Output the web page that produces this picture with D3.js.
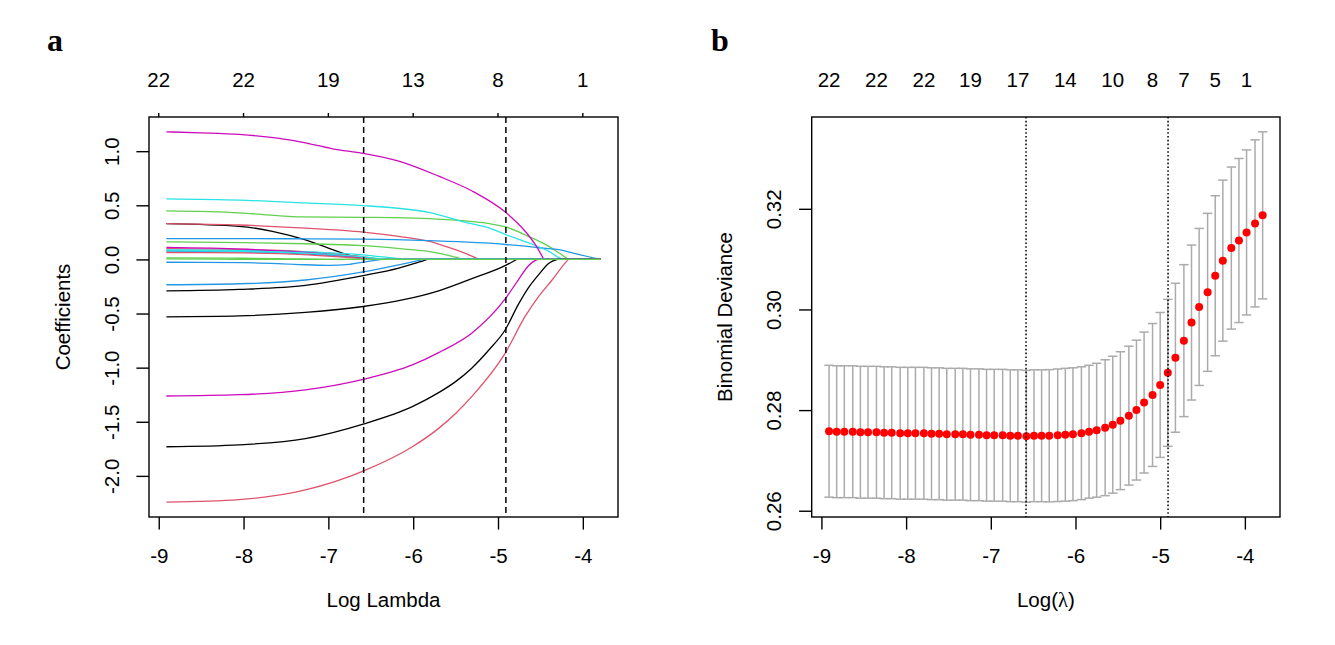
<!DOCTYPE html>
<html><head><meta charset="utf-8">
<script src="https://cdn.jsdelivr.net/npm/d3@7"></script>
<style>body{margin:0;background:#fff} svg text{font-family:"Liberation Sans",Arial,Helvetica,sans-serif;fill:#000}</style>
</head><body><svg id="c" width="1335" height="645"></svg>
<script>
// ---------------- DATA ----------------
// log(lambda) sequence (read from the cross-validation points)
const logLambda = [-8.91,-8.82,-8.73,-8.63,-8.54,-8.45,-8.35,-8.26,-8.17,-8.07,
  -7.98,-7.89,-7.79,-7.70,-7.61,-7.52,-7.42,-7.33,-7.24,-7.14,
  -7.05,-6.96,-6.86,-6.77,-6.68,-6.58,-6.49,-6.40,-6.31,-6.21,
  -6.12,-6.03,-5.93,-5.84,-5.75,-5.65,-5.56,-5.47,-5.37,-5.28,
  -5.19,-5.09,-5.00,-4.91,-4.82,-4.72,-4.63,-4.54,-4.44,-4.35,
  -4.26,-4.16,-4.07,-3.98,-3.88,-3.79];
// mean binomial deviance
const cvm = [0.2758,0.2757,0.2757,0.2757,0.2756,0.2756,0.2756,0.2755,0.2755,0.2754,
  0.2754,0.2754,0.2754,0.2753,0.2753,0.2752,0.2752,0.2752,0.2751,0.2751,
  0.2750,0.2750,0.2750,0.2749,0.2749,0.2748,0.2749,0.2749,0.2749,0.2750,
  0.2751,0.2752,0.2754,0.2757,0.2760,0.2765,0.2771,0.2779,0.2789,0.2800,
  0.2815,0.2830,0.2850,0.2874,0.2904,0.2938,0.2974,0.3005,0.3034,0.3067,
  0.3097,0.3122,0.3137,0.3153,0.3171,0.3187];
// standard error of deviance
const cvsd = [0.0131,0.0131,0.0131,0.0131,0.0131,0.0131,0.0131,0.0131,0.0131,0.0131,
  0.0131,0.0131,0.0131,0.0131,0.0131,0.0131,0.0131,0.0131,0.0131,0.0131,
  0.0131,0.0131,0.0131,0.0131,0.0131,0.0131,0.0131,0.0131,0.01314,0.01317,
  0.0132,0.0132,0.0132,0.0132,0.0133,0.0135,0.0136,0.0137,0.0138,0.0139,
  0.0140,0.0142,0.0144,0.0146,0.0148,0.0151,0.0154,0.0156,0.0157,0.0159,
  0.0160,0.0161,0.0163,0.0164,0.0166,0.0166];

const xTicks = [-9,-8,-7,-6,-5,-4];
const xTickLabels = ["-9","-8","-7","-6","-5","-4"];
const coefTicks = [-2,-1.5,-1,-0.5,0,0.5,1];
const coefTickLabels = ["-2.0","-1.5","-1.0","-0.5","0.0","0.5","1.0"];
const devTicks = [0.26,0.28,0.30,0.32];
const devTickLabels = ["0.26","0.28","0.30","0.32"];
const dfTopA = ["22","22","19","13","8","1"];           // at xTicks
const dfTopBAt = [-8.91,-8.35,-7.79,-7.24,-6.68,-6.12,-5.56,-5.09,-4.72,-4.35,-3.98];
const dfTopB = ["22","22","22","19","17","14","10","8","7","5","1"];
const logLambdaMin = -6.584;
const logLambda1se = -4.907;

// coefficient paths: [logLambda, coefficient] (last point = where it reaches 0)
const coef01 = [[-8.91,0.331],[-8.05,0.306],[-7.66,0.26],[-7.27,0.18],[-6.95,0.09],[-6.71,0.028],[-6.56,0]];
const coef02 = [[-8.91,0.331],[-8.05,0.318],[-7.27,0.29],[-6.59,0.253],[-6.17,0.213],[-5.82,0.168],[-5.6,0.115],[-5.4,0.06],[-5.22,0]];
const coef03 = [[-8.91,0.448],[-8.05,0.43],[-7.6,0.405],[-7.34,0.393],[-6.59,0.389],[-5.82,0.377],[-5.42,0.358],[-5.1,0.33],[-4.91,0.30],[-4.64,0.213],[-4.4,0.12],[-4.25,0.043],[-4.17,0]];
const coef04 = [[-8.91,0.192],[-7.5,0.191],[-6.59,0.187],[-5.82,0.173],[-4.91,0.138],[-4.52,0.108],[-4.25,0.085],[-4.1,0.055],[-3.79,0]];
const coef05 = [[-8.91,0.559],[-8.05,0.547],[-7.27,0.522],[-6.59,0.497],[-6.1,0.466],[-5.82,0.435],[-5.42,0.35],[-5.1,0.29],[-4.91,0.23],[-4.64,0.152],[-4.40,0.074],[-4.27,0.012],[-4.21,0]];
const coef06 = [[-8.91,1.179],[-8.5,1.17],[-8.05,1.155],[-7.6,1.12],[-7.27,1.077],[-6.95,1.022],[-6.59,0.98],[-6.17,0.908],[-5.7,0.769],[-5.3,0.63],[-4.91,0.435],[-4.68,0.26],[-4.56,0.136],[-4.46,0]];
const coef07 = [[-8.91,-0.29],[-8.05,-0.277],[-7.27,-0.24],[-6.59,-0.15],[-6.17,-0.08],[-5.95,-0.03],[-5.83,0]];
const coef08 = [[-8.91,0.10],[-8.0,0.092],[-7.3,0.072],[-6.9,0.05],[-6.6,0.025],[-6.4,0]];
const coef09 = [[-8.91,0.162],[-8.0,0.155],[-7.27,0.145],[-6.59,0.127],[-6.1,0.096],[-5.82,0.074],[-5.6,0.04],[-5.4,0]];
const coef10 = [[-8.91,0.077],[-8.0,0.07],[-7.3,0.052],[-6.8,0.025],[-6.55,0]];
const coef11 = [[-8.91,0.088],[-8.0,0.083],[-7.3,0.072],[-6.6,0.042],[-6.3,0.018],[-6.09,0]];
const coef12 = [[-8.91,0.111],[-8.0,0.095],[-7.3,0.068],[-6.9,0.04],[-6.6,0.012],[-6.5,0]];
const coef13 = [[-8.91,-0.53],[-8.05,-0.522],[-7.27,-0.49],[-6.59,-0.435],[-6.1,-0.37],[-5.7,-0.29],[-5.3,-0.175],[-4.91,-0.055],[-4.78,0]];
const coef14 = [[-8.91,0.064],[-8.0,0.06],[-7.3,0.045],[-6.9,0.025],[-6.6,0.008],[-6.5,0]];
const coef15 = [[-8.91,0.014],[-8.0,0.011],[-7.4,0.005],[-7.0,0]];
const coef16 = [[-8.91,-0.026],[-8.0,-0.03],[-7.4,-0.045],[-7.0,-0.055],[-6.75,-0.045],[-6.55,-0.02],[-6.37,0]];
const coef17 = [[-8.91,0.082],[-8.0,0.075],[-7.3,0.06],[-6.7,0.03],[-6.3,0]];
const coef18 = [[-8.91,-1.262],[-8.05,-1.25],[-7.27,-1.205],[-6.59,-1.108],[-6.01,-0.975],[-5.7,-0.861],[-5.31,-0.682],[-4.92,-0.37],[-4.76,-0.188],[-4.64,-0.058],[-4.56,-0.009],[-4.52,0]];
const coef19 = [[-8.91,-1.731],[-8.05,-1.713],[-7.27,-1.655],[-6.59,-1.521],[-6.01,-1.36],[-5.7,-1.231],[-5.5,-1.129],[-5.31,-1.005],[-5.1,-0.83],[-4.92,-0.657],[-4.76,-0.415],[-4.64,-0.26],[-4.52,-0.14],[-4.40,-0.035],[-4.30,0]];
const coef20 = [[-8.91,-2.243],[-8.05,-2.219],[-7.27,-2.13],[-6.59,-1.956],[-6.01,-1.731],[-5.7,-1.561],[-5.5,-1.423],[-5.31,-1.268],[-4.92,-0.873],[-4.68,-0.527],[-4.52,-0.342],[-4.36,-0.188],[-4.21,-0.034],[-4.17,0]];
const coef21 = [[-8.91,-0.234],[-8.05,-0.225],[-7.27,-0.19],[-6.59,-0.115],[-6.17,-0.05],[-5.87,0]];
const coef22 = [[-8.91,0.005],[-8.3,0.002],[-7.9,0]];
const coefColors = ["#000000","#DF536B","#61D04F","#2297E6","#28E2E5","#CD0BBC",
  "#000000","#DF536B","#61D04F","#2297E6","#28E2E5","#CD0BBC",
  "#000000","#DF536B","#61D04F","#2297E6","#28E2E5","#CD0BBC",
  "#000000","#DF536B","#2297E6","#61D04F"];

// ---------------- DRAW ----------------
const coefPaths = [coef01,coef02,coef03,coef04,coef05,coef06,coef07,coef08,coef09,coef10,coef11,
  coef12,coef13,coef14,coef15,coef16,coef17,coef18,coef19,coef20,coef21,coef22];
const svg = d3.select("#c");
const FS = 20.5, TICK = 12.6, LW = 1.4;
function pad(e){const r=e[1]-e[0];return [e[0]-0.04*r,e[1]+0.04*r];}
const lamExt = d3.extent(logLambda);

function panelAxes(box, x, y, yTicks, yLabels, xTitle, yTitle){
  const gx = svg.append("g").attr("transform",`translate(0,${box.y1})`)
    .call(d3.axisBottom(x).tickValues(xTicks).tickSize(TICK).tickFormat((d,i)=>xTickLabels[i]));
  gx.attr("font-size",null).attr("font-family",null);
  gx.select(".domain").remove();
  gx.selectAll("line").attr("stroke","#000").attr("stroke-width",LW);
  gx.selectAll("text").attr("y",46).attr("dy",null).style("font-size",FS+"px").attr("fill","#000");
  const gy = svg.append("g").attr("transform",`translate(${box.x0},0)`)
    .call(d3.axisLeft(y).tickValues(yTicks).tickSize(TICK).tickFormat((d,i)=>yLabels[i]));
  gy.attr("font-size",null).attr("font-family",null);
  gy.select(".domain").remove();
  gy.selectAll("line").attr("stroke","#000").attr("stroke-width",LW);
  gy.selectAll("text").attr("x",0).attr("dy",null).attr("text-anchor","middle")
    .attr("transform","translate(-30.5,0) rotate(-90)").style("font-size",FS+"px").attr("fill","#000");
  svg.append("rect").attr("x",box.x0).attr("y",box.y0).attr("width",box.x1-box.x0).attr("height",box.y1-box.y0)
    .attr("fill","none").attr("stroke","#000").attr("stroke-width",LW);
  svg.append("text").attr("x",(box.x0+box.x1)/2).attr("y",607).attr("text-anchor","middle")
    .style("font-size",FS+"px").html(xTitle);
  svg.append("text").attr("transform",`translate(${box.x0-79.5},${(box.y0+box.y1)/2}) rotate(-90)`)
    .attr("text-anchor","middle").style("font-size",FS+"px").text(yTitle);
}

// ===== Panel a =====
const A = {x0:149,x1:618,y0:117,y1:517};
const xa = d3.scaleLinear().domain(pad(lamExt)).range([A.x0,A.x1]);
const ya = d3.scaleLinear().domain(pad(d3.extent(coefPaths.flat().map(d=>d[1])))).range([A.y1,A.y0]);
svg.append("clipPath").attr("id","clipA").append("rect")
  .attr("x",A.x0).attr("y",A.y0).attr("width",A.x1-A.x0).attr("height",A.y1-A.y0);
const gA = svg.append("g").attr("clip-path","url(#clipA)");
const lineA = d3.line().x(d=>xa(d[0])).y(d=>ya(d[1])).curve(d3.curveMonotoneX);
const lineZ = d3.line().x(d=>xa(d[0])).y(d=>ya(d[1]));
coefPaths.forEach((p,i)=>{
  gA.append("path").attr("d",lineA(p)).attr("fill","none").attr("stroke",coefColors[i]).attr("stroke-width",1.3);
  const last = p[p.length-1];
  if (last[0] < lamExt[1]) {
    gA.append("path").attr("d",lineZ([last,[lamExt[1],0]])).attr("fill","none")
      .attr("stroke",coefColors[i]).attr("stroke-width",1.3);
  }
});
[logLambdaMin, logLambda1se].forEach(v=>{
  gA.append("line").attr("x1",xa(v)).attr("x2",xa(v)).attr("y1",A.y0).attr("y2",A.y1)
    .attr("stroke","#000").attr("stroke-width",1.5).attr("stroke-dasharray","6,4");
});
panelAxes(A, xa, ya, coefTicks, coefTickLabels, "Log Lambda", "Coefficients");
xTicks.forEach((t,i)=>{
  svg.append("line").attr("x1",xa(t)).attr("x2",xa(t)).attr("y1",A.y0).attr("y2",A.y0-4)
    .attr("stroke","#000").attr("stroke-width",LW);
  svg.append("text").attr("x",xa(t)).attr("y",87).attr("text-anchor","middle").style("font-size",FS+"px").text(dfTopA[i]);
});
svg.append("text").attr("x",47).attr("y",51).style("font-family","'Liberation Serif','Times New Roman',serif")
  .style("font-weight","bold").style("font-size","32px").text("a");

// ===== Panel b =====
const B = {x0:811.7,x1:1280,y0:117,y1:517};
const xb = d3.scaleLinear().domain(pad(lamExt)).range([B.x0,B.x1]);
const lo = cvm.map((m,i)=>m-cvsd[i]), hi = cvm.map((m,i)=>m+cvsd[i]);
const yb = d3.scaleLinear().domain(pad([d3.min(lo),d3.max(hi)])).range([B.y1,B.y0]);
const gB = svg.append("g");
const capW = 0.01*(xb.domain()[1]-xb.domain()[0]);
const barCol = "#ABABAB";
logLambda.forEach((l,i)=>{
  gB.append("line").attr("x1",xb(l)).attr("x2",xb(l)).attr("y1",yb(lo[i])).attr("y2",yb(hi[i]))
    .attr("stroke",barCol).attr("stroke-width",1.5);
  [lo[i],hi[i]].forEach(v=>gB.append("line").attr("x1",xb(l-capW)).attr("x2",xb(l+capW))
    .attr("y1",yb(v)).attr("y2",yb(v)).attr("stroke",barCol).attr("stroke-width",1.5));
});
logLambda.forEach((l,i)=>{
  gB.append("circle").attr("cx",xb(l)).attr("cy",yb(cvm[i])).attr("r",4).attr("fill","#FF0000");
});
[logLambdaMin, logLambda1se].forEach(v=>{
  gB.append("line").attr("x1",xb(v)).attr("x2",xb(v)).attr("y1",B.y0).attr("y2",B.y1)
    .attr("stroke","#000").attr("stroke-width",1.5).attr("stroke-dasharray","1.6,2.2");
});
panelAxes(B, xb, yb, devTicks, devTickLabels,
  'Log(<tspan style="font-family:\'Liberation Serif\',\'DejaVu Serif\',serif">λ</tspan>)', "Binomial Deviance");
dfTopBAt.forEach((t,i)=>{
  svg.append("text").attr("x",xb(t)).attr("y",87).attr("text-anchor","middle").style("font-size",FS+"px").text(dfTopB[i]);
});
svg.append("text").attr("x",711).attr("y",51).style("font-family","'Liberation Serif','Times New Roman',serif")
  .style("font-weight","bold").style("font-size","32px").text("b");
</script></body></html>
